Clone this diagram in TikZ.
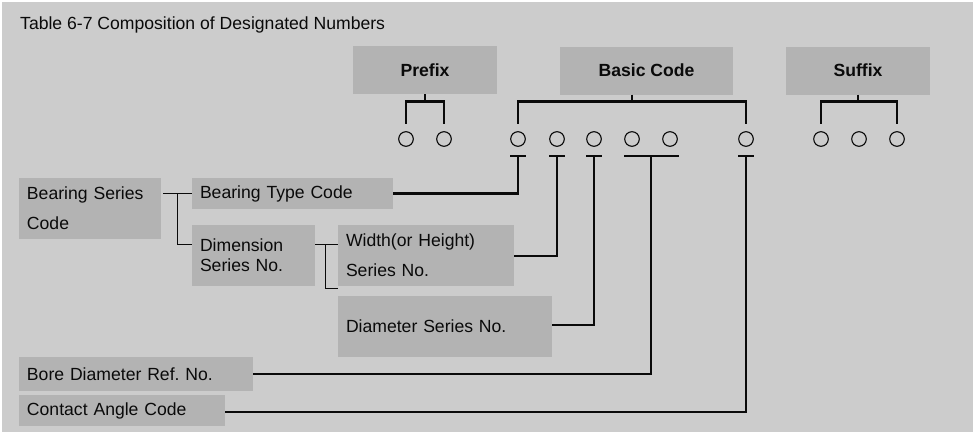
\documentclass[tikz,border=0pt]{standalone}
\usepackage{fontspec}
\setmainfont{Liberation Sans}
\usepackage{xcolor}
\usetikzlibrary{positioning,calc}
\definecolor{panel}{HTML}{CCCCCC}
\definecolor{cell}{HTML}{B3B3B3}
\definecolor{ink}{HTML}{0A0A0A}
\newcommand{\cellfont}{\fontsize{17.6}{30}\selectfont}
\frenchspacing
\tikzset{
    every picture/.style={line join=miter},
    headbox/.style={fill=cell,minimum height=48pt,inner sep=0pt,outer sep=0pt,
      font=\cellfont\bfseries,text=ink},
    labelbox/.style={fill=cell,anchor=north west,inner xsep=8pt,inner ysep=0pt,
      outer sep=0pt,align=left,font=\cellfont,text=ink},
    digit/.style={circle,draw=ink,line width=1.1pt,minimum size=14.6pt,
      inner sep=0pt,outer sep=0pt},
    bracket/.style={draw=ink,line width=2.6pt},
    leader/.style={draw=ink,line width=2.6pt},
    treeline/.style={draw=ink,line width=0.9pt}
}

\begin{document}
\begin{tikzpicture}[x=1pt,y=-1pt]
  \fill[white] (0,0) rectangle (976,434);
  \fill[panel] (2,2) rectangle (973,432);
  \useasboundingbox (0,0) rectangle (976,434);

  \node[anchor=base west,font=\cellfont,text=ink,inner sep=0pt] (title) at (20,29)
    {Table 6-7 Composition of Designated Numbers};

  % heading boxes
  \node[headbox,minimum width=144pt] (prefix) at (425,70) {Prefix};
  \node[headbox,minimum width=173pt] (basic) at (646.5,70.5) {Basic Code};
  \node[headbox,minimum width=144pt] (suffix) at (858,70.5) {Suffix};

  % digit places
  \foreach \n/\x in {p1/406,p2/444,b1/518,b2/557,b3/594,b4/632,b5/670,b6/746,
                     s1/821,s2/859,s3/897} {
    \node[digit] (\n) at (\x,139) {};
  }

  % brackets from headings to digits
  \coordinate (bmid) at ($(b1)!0.5!(b6)$);
  \draw[bracket] (p1.north) ++(0,-8) -- ++(0,-22) -| ([yshift=8pt]p2.north);
  \draw[bracket] (prefix.south) -- ++(0,8);
  \draw[bracket] (b1.north) ++(0,-8) -- ++(0,-22) -| ([yshift=8pt]b6.north);
  \draw[bracket] (bmid |- basic.south) -- ++(0,8);
  \draw[bracket] (s1.north) ++(0,-8) -- ++(0,-22) -| ([yshift=8pt]s3.north);
  \draw[bracket] (suffix.south) -- ++(0,8);

  % item boxes
  \node[labelbox,text width=126pt,minimum height=61pt] (bseries) at (19,178)
    {Bearing Series\\Code};
  \node[labelbox,text width=185pt,minimum height=31pt] (btype) at (192,178)
    {Bearing Type Code};
  \node[labelbox,text width=107pt,minimum height=61pt,
    font=\fontsize{17.6}{20}\selectfont] (dim) at (192,225)
    {Dimension\\Series No.};
  \node[labelbox,text width=160pt,minimum height=61pt] (width) at (338,225)
    {Width(or Height)\\Series No.};
  \node[labelbox,text width=198pt,minimum height=61pt] (diam) at (338,296)
    {Diameter Series No.};
  \node[labelbox,text width=218pt,minimum height=34pt] (bore) at (19,357)
    {Bore Diameter Ref.\ No.};
  \node[labelbox,text width=190pt,minimum height=31pt] (contact) at (19,395)
    {Contact Angle Code};

  % thin tree
  \coordinate (fork1) at (177,193.5);
  \coordinate (dimtap) at (192,244);
  \coordinate (dimout) at (315,244);
  \coordinate (fork2) at (325,244);
  \coordinate (widthtap) at (338,244);
  \coordinate (diamtap) at (338,288);
  \draw[treeline] ([xshift=2pt]bseries.east |- btype.west) -- (btype.west);
  \draw[treeline] (fork1) |- (dimtap);
  \draw[treeline] (dimout) -- (widthtap);
  \draw[treeline] (fork2) |- (diamtap);

  % tee marks under the digits
  \coordinate (b45) at ($(b4.south)!0.5!(b5.south)$);
  \foreach \n in {b1,b2,b3,b6} {
    \draw[bracket] ([xshift=-8pt,yshift=-9.7pt]\n.south) -- ++(16,0);
  }
  \draw[bracket] ([xshift=-27pt,yshift=-9.7pt]b45) -- ++(55,0);

  % leaders from items to digits
  \draw[leader] (btype.east) -| ([yshift=-9.7pt]b1.south);
  \draw[leader] ([yshift=-0.5pt]width.east) -| ([yshift=-9.7pt]b2.south);
  \draw[leader] ([yshift=1.5pt]diam.east) -| ([yshift=-9.7pt]b3.south);
  \draw[leader] (bore.east) -| ([yshift=-9.7pt]b45);
  \draw[leader] ([yshift=-1.5pt]contact.east) -| ([yshift=-9.7pt]b6.south);
\end{tikzpicture}
\end{document}
